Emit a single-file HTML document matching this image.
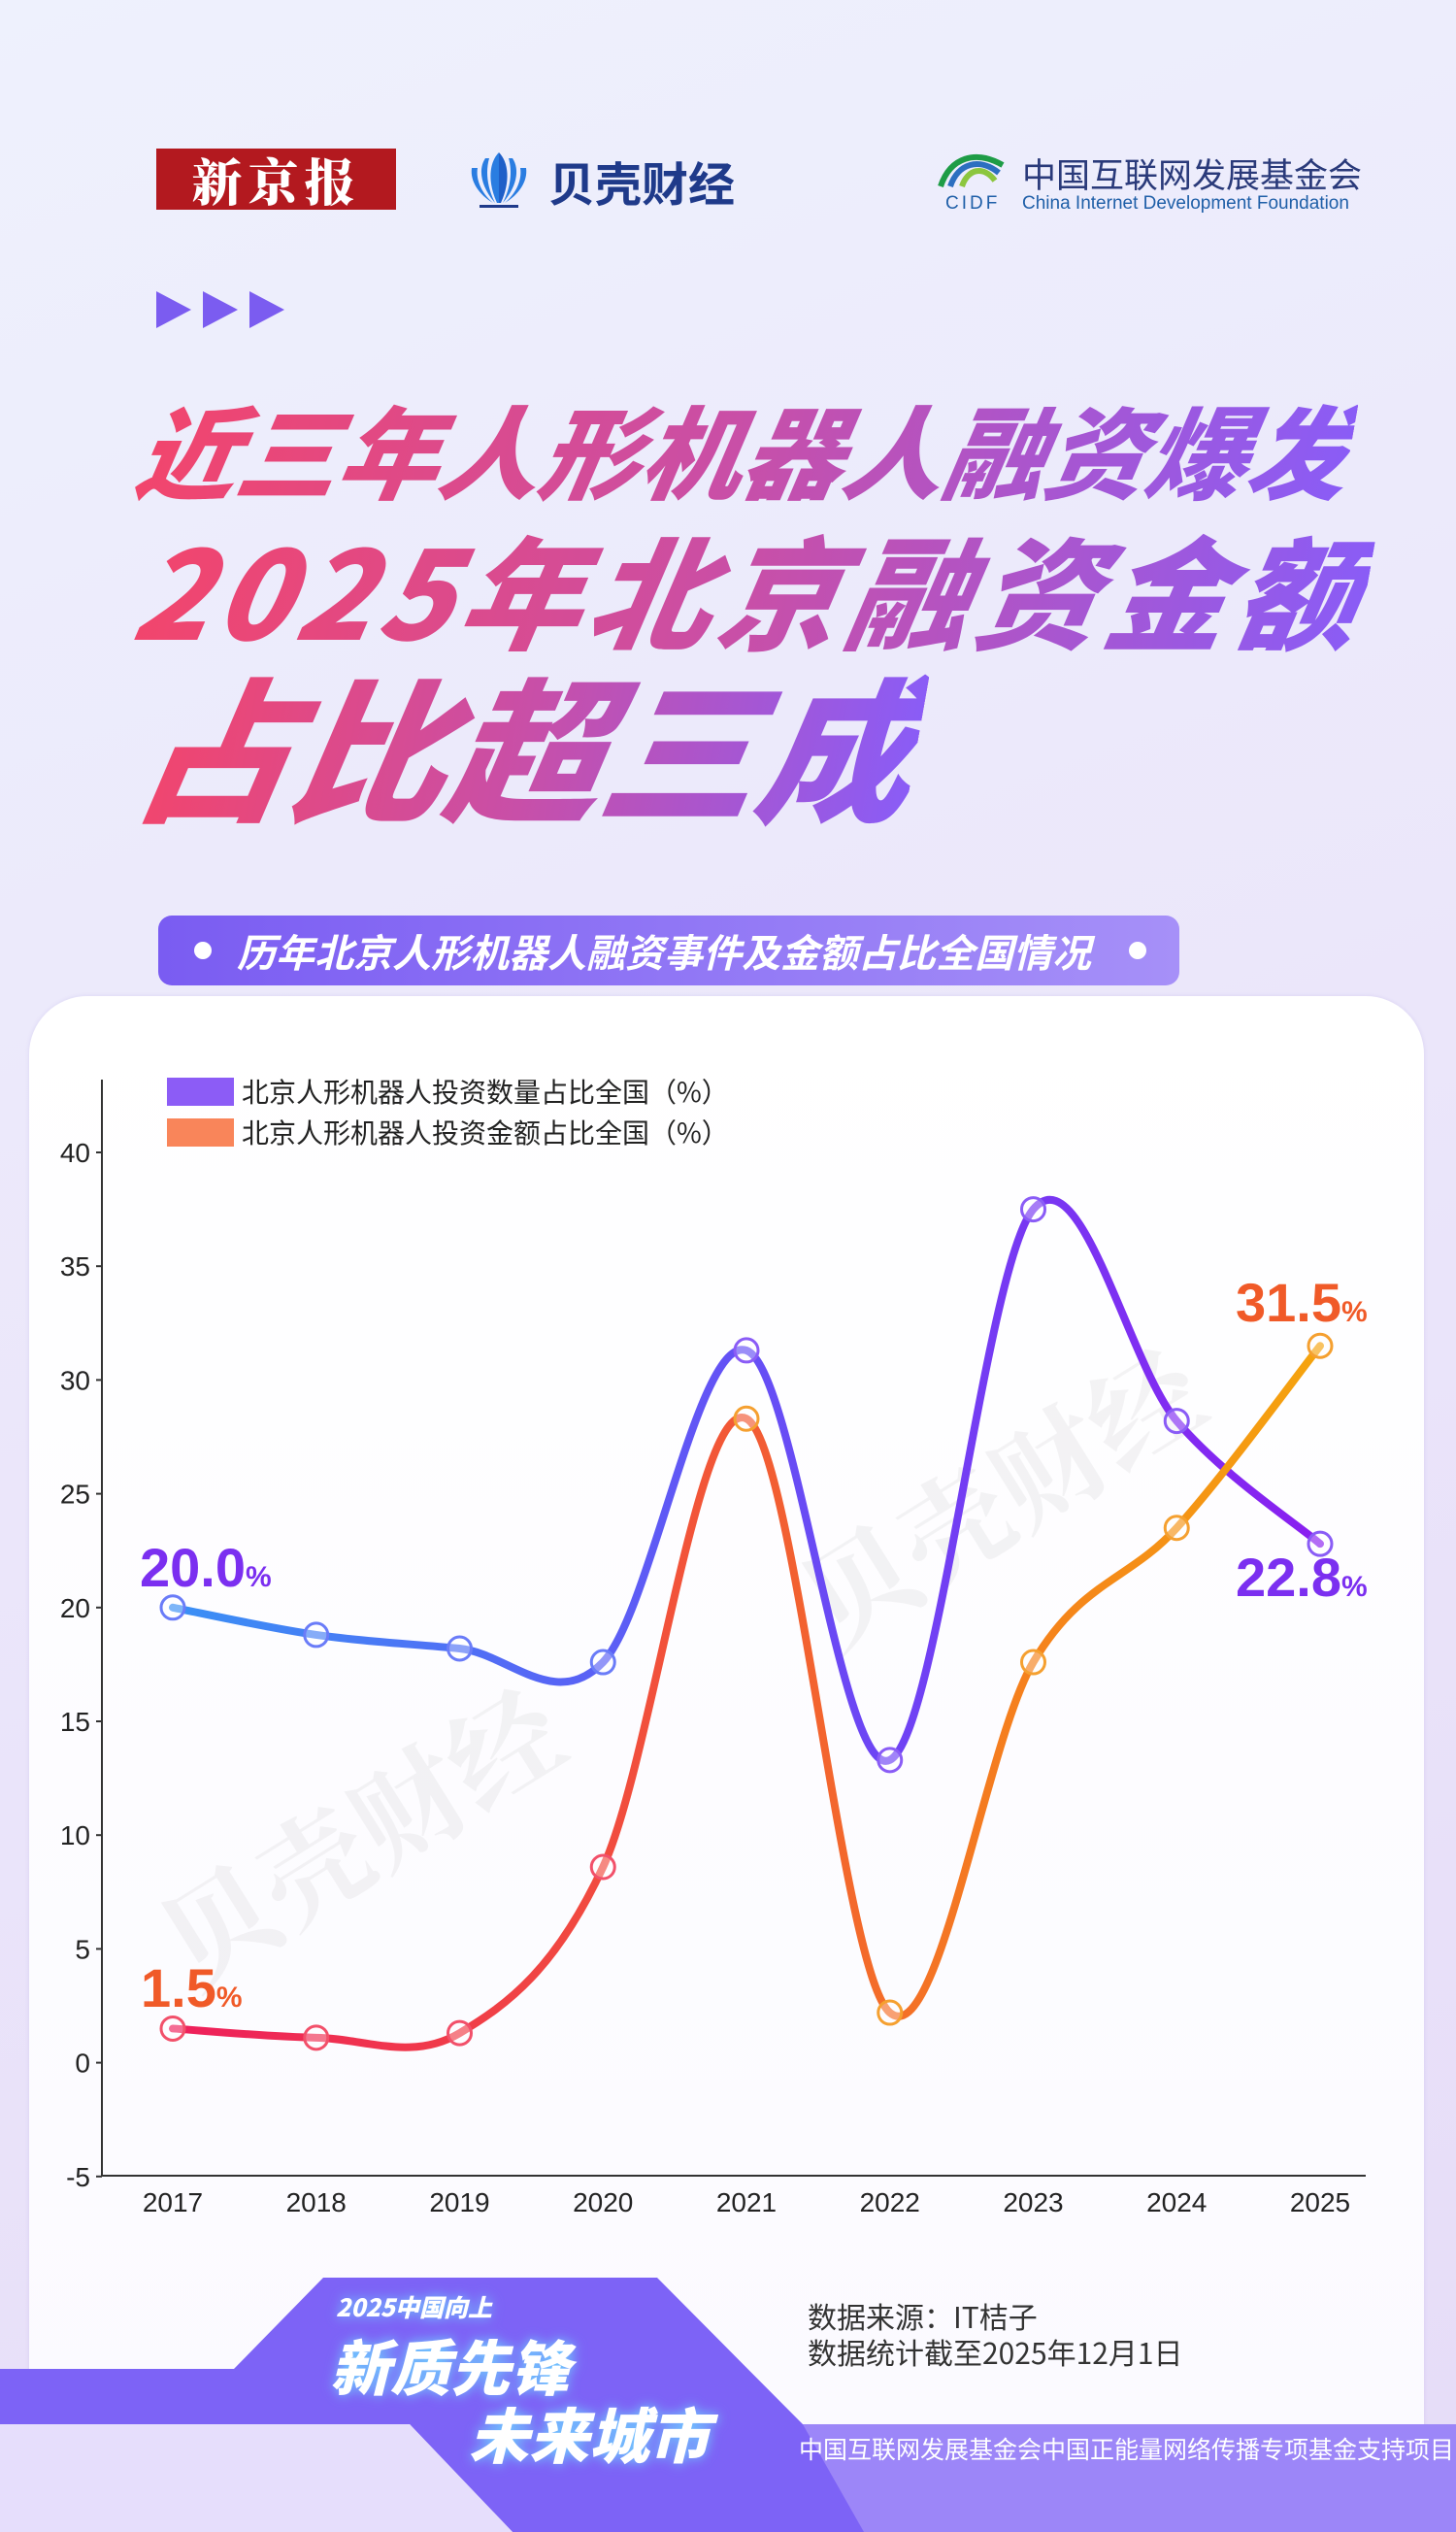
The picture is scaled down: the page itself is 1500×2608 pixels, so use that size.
<!DOCTYPE html>
<html><head><meta charset="utf-8">
<style>
html,body{margin:0;padding:0;}
body{width:1500px;height:2608px;position:relative;overflow:hidden;
background:linear-gradient(160deg,#eef1fd 0%,#ebe6fa 50%,#e6dcf8 100%);
font-family:"Liberation Sans","Noto Sans CJK SC",sans-serif;}
.abs{position:absolute;}
.title{position:absolute;left:0;font-family:"Noto Sans CJK SC",sans-serif;font-weight:900;font-style:italic;
white-space:nowrap;background:linear-gradient(90deg,#f2456c 0%,#c84fa8 50%,#8a5cf6 100%);
-webkit-background-clip:text;background-clip:text;color:transparent;transform-origin:left top;}
</style></head><body>

<div class="abs" style="left:161px;top:153px;width:247px;height:63px;background:#b3191f;color:#fff;font-family:'Noto Serif CJK SC',serif;font-weight:900;font-size:52px;line-height:63px;text-align:center;letter-spacing:6px;">新京报</div>
<svg class="abs" style="left:474px;top:153px" width="80" height="64" viewBox="0 0 80 64">
<g fill="#2a7de1"><path d="M40 4 C30 14 28 34 38 56 L40 56 Z"/><path d="M40 4 C50 14 52 34 42 56 L40 56 Z" fill="#1f5fc8"/>
<path d="M26 10 C18 22 22 40 36 56 C28 40 26 24 30 10Z"/><path d="M54 10 C62 22 58 40 44 56 C52 40 54 24 50 10Z"/>
<path d="M12 20 C10 34 20 48 34 56 C22 46 16 32 18 20Z"/><path d="M68 20 C70 34 60 48 46 56 C58 46 64 32 62 20Z"/></g>
<rect x="20" y="58" width="40" height="3" fill="#1f3a8a"/></svg>
<div class="abs" style="left:565px;top:158px;font-size:48px;font-weight:bold;color:#1f3a8a;font-family:'Noto Sans CJK SC',sans-serif;line-height:56px;">贝壳财经</div>
<svg class="abs" style="left:965px;top:152px" width="72" height="44" viewBox="0 0 72 44">
<path d="M4 40 C14 10 40 2 68 18" stroke="#1e9c46" stroke-width="6" fill="none"/>
<path d="M14 40 C22 16 44 10 64 26" stroke="#2c6fc0" stroke-width="6" fill="none"/>
<path d="M26 40 C32 22 48 18 60 34" stroke="#8cc63e" stroke-width="6" fill="none"/></svg>
<div class="abs" style="left:1053px;top:158px;font-size:35px;color:#2a3a7a;font-family:'Noto Sans CJK SC',sans-serif;line-height:42px;">中国互联网发展基金会</div>
<div class="abs" style="left:974px;top:199px;font-size:19px;color:#1f5fa8;letter-spacing:3px;">CIDF</div>
<div class="abs" style="left:1053px;top:199px;font-size:19px;color:#1f5fa8;">China Internet Development Foundation</div>

<svg class="abs" style="left:161px;top:298px" width="135" height="42"><g fill="#7b5cf0">
<polygon points="0,2 36,21 0,40"/><polygon points="48,2 84,21 48,40"/><polygon points="96,2 132,21 96,40"/></g></svg>

<div class="title" style="left:155px;top:396px;font-size:104px;line-height:130px;letter-spacing:0px;transform:skewX(-10deg);">近三年人形机器人融资爆发</div>
<div class="title" style="left:156px;top:528px;font-size:126px;line-height:155px;letter-spacing:7px;transform:skewX(-10deg);">2025年北京融资金额</div>
<div class="title" style="left:163px;top:665px;font-size:160px;line-height:200px;letter-spacing:0px;transform:skewX(-10deg);">占比超三成</div>

<div class="abs" style="left:163px;top:943px;width:1052px;height:72px;border-radius:14px;background:linear-gradient(90deg,#7a5cf2,#a690f8);"></div>
<div class="abs" style="left:200px;top:970px;width:18px;height:18px;border-radius:50%;background:#fff;"></div>
<div class="abs" style="left:1163px;top:970px;width:18px;height:18px;border-radius:50%;background:#fff;"></div>
<div class="abs" style="left:244px;top:950px;font-size:40px;line-height:58px;color:#fff;font-weight:bold;font-style:italic;font-family:'Noto Sans CJK SC',sans-serif;">历年北京人形机器人融资事件及金额占比全国情况</div>

<div class="abs" style="left:30px;top:1026px;width:1437px;height:1500px;border-radius:60px 60px 0 0;background:linear-gradient(180deg,#ffffff,#fbfaff);box-shadow:0 0 4px rgba(120,100,200,0.15);"></div>

<svg class="abs" style="left:0;top:0" width="1500" height="2608" id="chart">
<defs>
<linearGradient id="g1" gradientUnits="userSpaceOnUse" x1="178" y1="0" x2="1360" y2="0">
<stop offset="0" stop-color="#3a90f5"/><stop offset="0.5" stop-color="#6550f5"/><stop offset="1" stop-color="#8a1ff0"/></linearGradient>
<linearGradient id="g2" gradientUnits="userSpaceOnUse" x1="178" y1="0" x2="1360" y2="0">
<stop offset="0" stop-color="#ee1f5c"/><stop offset="0.5" stop-color="#f25a35"/><stop offset="0.75" stop-color="#f5821c"/><stop offset="1" stop-color="#f5a40e"/></linearGradient>
</defs>
<g font-size="115" fill="rgba(0,0,0,0.045)" font-family="Noto Serif CJK SC,serif" font-weight="bold">
<text x="200" y="2050" transform="rotate(-32 200 2050)">贝壳财经</text>
<text x="860" y="1700" transform="rotate(-32 860 1700)">贝壳财经</text>
</g>
<line x1="105" y1="1112" x2="105" y2="2242" stroke="#333" stroke-width="2"/>
<line x1="105" y1="2241" x2="1407" y2="2241" stroke="#333" stroke-width="2"/>
<g id="ticks" font-size="28" fill="#222" text-anchor="end"></g>
<g id="xt" font-size="28" fill="#222" text-anchor="middle"></g>
<path id="p1" fill="none" stroke="url(#g1)" stroke-width="8" stroke-linecap="round"/>
<path id="p2" fill="none" stroke="url(#g2)" stroke-width="8" stroke-linecap="round"/>
<g id="marks"></g>
<rect x="172" y="1110" width="69" height="29" fill="#8c5cf6"/>
<rect x="172" y="1152" width="69" height="29" fill="#f9855a"/>
<text x="249" y="1135" font-size="28" fill="#222" font-family="Noto Sans CJK SC,sans-serif">北京人形机器人投资数量占比全国（%）</text>
<text x="249" y="1177" font-size="28" fill="#222" font-family="Noto Sans CJK SC,sans-serif">北京人形机器人投资金额占比全国（%）</text>
<g font-weight="900" font-family="Liberation Sans,sans-serif">
<text x="144" y="1634" font-size="56" fill="#7b2ff0">20.0<tspan font-size="30">%</tspan></text>
<text x="145" y="2067" font-size="56" fill="#f05a28">1.5<tspan font-size="30">%</tspan></text>
<text x="1273" y="1361" font-size="56" fill="#f05a28">31.5<tspan font-size="30">%</tspan></text>
<text x="1273" y="1644" font-size="56" fill="#7b2ff0">22.8<tspan font-size="30">%</tspan></text>
</g>

<polygon points="333,2346 677,2346 827,2497 1500,2497 1500,2608 528,2608 422,2497 0,2497 0,2440 241,2440" fill="#7d63f6"/>
<polygon points="827,2497 1500,2497 1500,2608 890,2608" fill="#9c86f8"/>
<polygon points="0,2497 422,2497 528,2608 0,2608" fill="#e6defc"/>
<text x="832" y="2398" font-size="30" fill="#333" font-family="Noto Sans CJK SC,sans-serif">数据来源：IT桔子</text>
<text x="832" y="2435" font-size="30" fill="#333" font-family="Noto Sans CJK SC,sans-serif">数据统计截至2025年12月1日</text>
<text x="823" y="2532" font-size="25" fill="#fff" font-family="Noto Sans CJK SC,sans-serif">中国互联网发展基金会中国正能量网络传播专项基金支持项目</text>
<g fill="#fff" font-style="italic" font-weight="900" font-family="Noto Sans CJK SC,sans-serif" style="filter:drop-shadow(0 0 6px #6fd0ff)">
<text x="346" y="2386" font-size="25">2025中国向上</text>
<text x="340" y="2462" font-size="62">新质先锋</text>
<text x="483" y="2532" font-size="62">未来城市</text>
</g>
</svg>

<script>
(function(){
var ns="http://www.w3.org/2000/svg";
function Y(v){return 2124.6-v*23.44;}
function X(i){return 178+i*147.75;}
var tk=document.getElementById('ticks');
for(var v=-5;v<=40;v+=5){var t=document.createElementNS(ns,'text');t.setAttribute('x',93);t.setAttribute('y',Y(v)+10);t.textContent=v;tk.appendChild(t);
var l=document.createElementNS(ns,'line');l.setAttribute('x1',99);l.setAttribute('x2',105);l.setAttribute('y1',Y(v));l.setAttribute('y2',Y(v));l.setAttribute('stroke','#333');l.setAttribute('stroke-width',2);tk.appendChild(l);}
var xt=document.getElementById('xt');
for(var i=0;i<9;i++){var t=document.createElementNS(ns,'text');t.setAttribute('x',X(i));t.setAttribute('y',2278);t.textContent=2017+i;xt.appendChild(t);}
var a=[20.0,18.8,18.2,17.6,31.3,13.3,37.5,28.2,22.8];
var b=[1.5,1.1,1.3,8.6,28.3,2.2,17.6,23.5,31.5];
function path(d){var p=d.map(function(v,i){return [X(i),Y(v)];});var s='M'+p[0][0]+' '+p[0][1];
for(var i=0;i<p.length-1;i++){var p0=p[i-1]||p[i],p1=p[i],p2=p[i+1],p3=p[i+2]||p[i+1];var k=1/6;
s+=' C'+(p1[0]+(p2[0]-p0[0])*k)+' '+(p1[1]+(p2[1]-p0[1])*k)+' '+(p2[0]-(p3[0]-p1[0])*k)+' '+(p2[1]-(p3[1]-p1[1])*k)+' '+p2[0]+' '+p2[1];}return s;}
document.getElementById('p1').setAttribute('d',path(a));
document.getElementById('p2').setAttribute('d',path(b));
var m=document.getElementById('marks');
function mk(d,c1,c2){d.forEach(function(v,i){var c=document.createElementNS(ns,'circle');c.setAttribute('cx',X(i));c.setAttribute('cy',Y(v));c.setAttribute('r',12);c.setAttribute('fill','rgba(255,255,255,0.35)');c.setAttribute('stroke',i<4?c1:c2);c.setAttribute('stroke-width',3);m.appendChild(c);});}
mk(a,'#6a7cf8','#8a5cf6');mk(b,'#f2506a','#f5a030');
})();
</script>
</body></html>
